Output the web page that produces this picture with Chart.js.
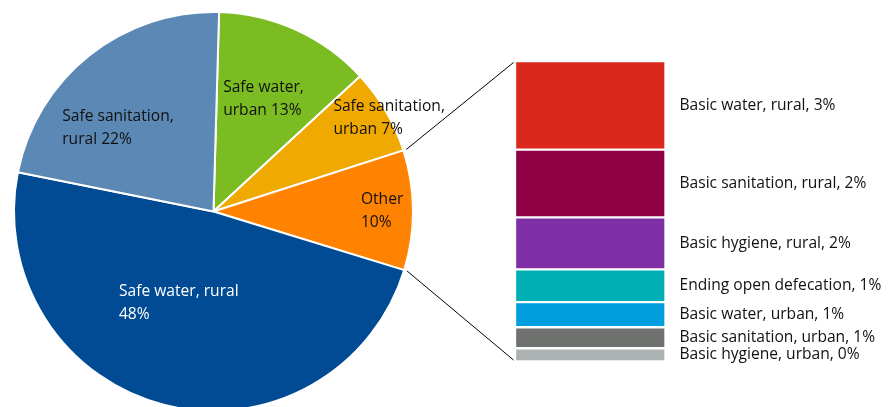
<!DOCTYPE html>
<html>
<head>
<meta charset="utf-8">
<script src="https://cdn.jsdelivr.net/npm/chart.js@4.4.1/dist/chart.umd.min.js"></script>
<style>
  html, body { margin: 0; padding: 0; background: #fff; overflow: hidden; }
  body { width: 888px; height: 407px; position: relative; }
  canvas { position: absolute; }
  #pieCanvas { left: 0; top: 0; }
  #barCanvas { left: 430px; top: 0; }
  #linkCanvas { left: 0; top: 0; pointer-events: none; }
</style>
</head>
<body>
<canvas id="pieCanvas" width="500" height="423"></canvas>
<canvas id="barCanvas" width="458" height="407"></canvas>
<canvas id="linkCanvas" width="888" height="407"></canvas>
<script>
// Pie: share of funding, clockwise from the top
const pieCategories = ['Safe water, urban', 'Safe sanitation, urban', 'Other', 'Safe water, rural', 'Safe sanitation, rural'];
const pieValues = [12.7, 6.9, 9.7, 48.4, 22.3];
const pieColors = ['#7abc22', '#f0a900', '#ff8300', '#004b93', '#5b88b4'];
// how each pie label is broken over two lines (percent goes on the end of line 2)
const pieLabelLines = [['Safe water,', 'urban'], ['Safe sanitation,', 'urban'], ['Other', ''], ['Safe water, rural', ''], ['Safe sanitation,', 'rural']];
const pieLabelColors = ['#111', '#111', '#111', '#fff', '#111'];

// Bar: breakdown of "Other", top to bottom
const barCategories = ['Basic water, rural', 'Basic sanitation, rural', 'Basic hygiene, rural', 'Ending open defecation',
                       'Basic water, urban', 'Basic sanitation, urban', 'Basic hygiene, urban'];
const barValues = [2.95, 2.26, 1.73, 1.09, 0.84, 0.70, 0.44];
const barColors = ['#da291c', '#8f0045', '#7f2fa6', '#00afb4', '#009edf', '#6f716e', '#adb3b2'];

const LABEL_FONT = '15.6px "Open Sans", sans-serif';
const LINE_H = 23;

// label placement: fraction of radius and angle shift (deg) from the slice middle
const pieLabelRadius = [0.615, 0.997, 0.845, 0.49, 0.636];
const pieLabelShift = [-0.4, 2.3, 0.2, 6.6, -10.3];

const pieLabelPlugin = {
    id: 'pieLabels',
    afterDraw(chart) {
        const ctx = chart.ctx;
        const arcs = chart.getDatasetMeta(0).data;
        ctx.save();
        ctx.font = LABEL_FONT;
        ctx.textBaseline = 'middle';
        ctx.textAlign = 'left';
        arcs.forEach((arc, i) => {
            const p = arc.getProps(['x', 'y', 'startAngle', 'endAngle', 'outerRadius']);
            const a = (p.startAngle + p.endAngle) / 2 + pieLabelShift[i] * Math.PI / 180;
            const cx = p.x + Math.cos(a) * p.outerRadius * pieLabelRadius[i];
            const cy = p.y + Math.sin(a) * p.outerRadius * pieLabelRadius[i];
            const pct = Math.round(pieValues[i]) + '%';
            const prefix = pieLabelLines[i][1];
            const lines = [pieLabelLines[i][0], prefix ? prefix + ' ' + pct : pct];
            const w = Math.max(...lines.map(l => ctx.measureText(l).width));
            ctx.fillStyle = pieLabelColors[i];
            lines.forEach((l, k) => ctx.fillText(l, cx - w / 2, cy + (k - 0.5) * LINE_H));
        });
        ctx.restore();
    }
};

const barLabelPlugin = {
    id: 'barLabels',
    afterDraw(chart) {
        const ctx = chart.ctx;
        ctx.save();
        ctx.font = LABEL_FONT;
        ctx.textBaseline = 'middle';
        ctx.textAlign = 'left';
        ctx.fillStyle = '#111';
        chart.data.datasets.forEach((ds, i) => {
            const bar = chart.getDatasetMeta(i).data[0];
            const p = bar.getProps(['x', 'y', 'base', 'width']);
            const midY = (p.y + p.base) / 2;
            ctx.fillText(barCategories[i] + ', ' + Math.round(barValues[i]) + '%', p.x + p.width / 2 + 14, midY);
        });
        ctx.restore();
    }
};

const pieChart = new Chart(document.getElementById('pieCanvas'), {
    type: 'pie',
    data: {
        labels: pieCategories,
        datasets: [{
            data: pieValues,
            backgroundColor: pieColors,
            borderColor: '#fff',
            borderWidth: 2
        }]
    },
    options: {
        responsive: false,
        animation: false,
        rotation: 1.6,
        radius: 199.5,
        layout: { padding: { right: 73 } },
        plugins: { legend: { display: false }, tooltip: { enabled: false } }
    },
    plugins: [pieLabelPlugin]
});

const barTotal = barValues.reduce((s, v) => s + v, 0);

const barChart = new Chart(document.getElementById('barCanvas'), {
    type: 'bar',
    data: {
        labels: ['Other'],
        datasets: barCategories.map((name, i) => ({
            label: name,
            data: [barValues[i]],
            backgroundColor: barColors[i],
            borderColor: '#fff',
            borderWidth: 1.5,
            borderSkipped: false,
            barPercentage: 1,
            categoryPercentage: 1
        }))
    },
    options: {
        responsive: false,
        animation: false,
        layout: { padding: { left: 85, right: 222.5, top: 61, bottom: 45.5 } },
        scales: {
            x: { display: false, stacked: true },
            y: { display: false, stacked: true, reverse: true, min: 0, max: barTotal }
        },
        plugins: { legend: { display: false }, tooltip: { enabled: false } }
    },
    plugins: [barLabelPlugin]
});

// connector lines from the "Other" slice to the top and bottom corners of the bar
(function drawLinks() {
    const ctx = document.getElementById('linkCanvas').getContext('2d');
    const other = pieChart.getDatasetMeta(0).data[pieCategories.indexOf('Other')];
    const a = other.getProps(['x', 'y', 'startAngle', 'endAngle', 'outerRadius']);
    const r = a.outerRadius + 3;
    const offX = document.getElementById('barCanvas').offsetLeft;
    const first = barChart.getDatasetMeta(0).data[0].getProps(['x', 'y', 'base', 'width']);
    const last = barChart.getDatasetMeta(barValues.length - 1).data[0].getProps(['x', 'y', 'base', 'width']);
    const barTop = Math.min(first.y, first.base) + 1.5;
    const barBottom = Math.max(last.y, last.base) - 1.5;
    const bx = offX + first.x - first.width / 2 - 1.5;
    ctx.strokeStyle = '#000';
    ctx.lineWidth = 1;
    ctx.beginPath();
    ctx.moveTo(a.x + Math.cos(a.startAngle) * r, a.y + Math.sin(a.startAngle) * r);
    ctx.lineTo(bx, barTop);
    ctx.moveTo(a.x + Math.cos(a.endAngle) * r, a.y + Math.sin(a.endAngle) * r);
    ctx.lineTo(bx, barBottom);
    ctx.stroke();
})();
</script>
</body>
</html>
